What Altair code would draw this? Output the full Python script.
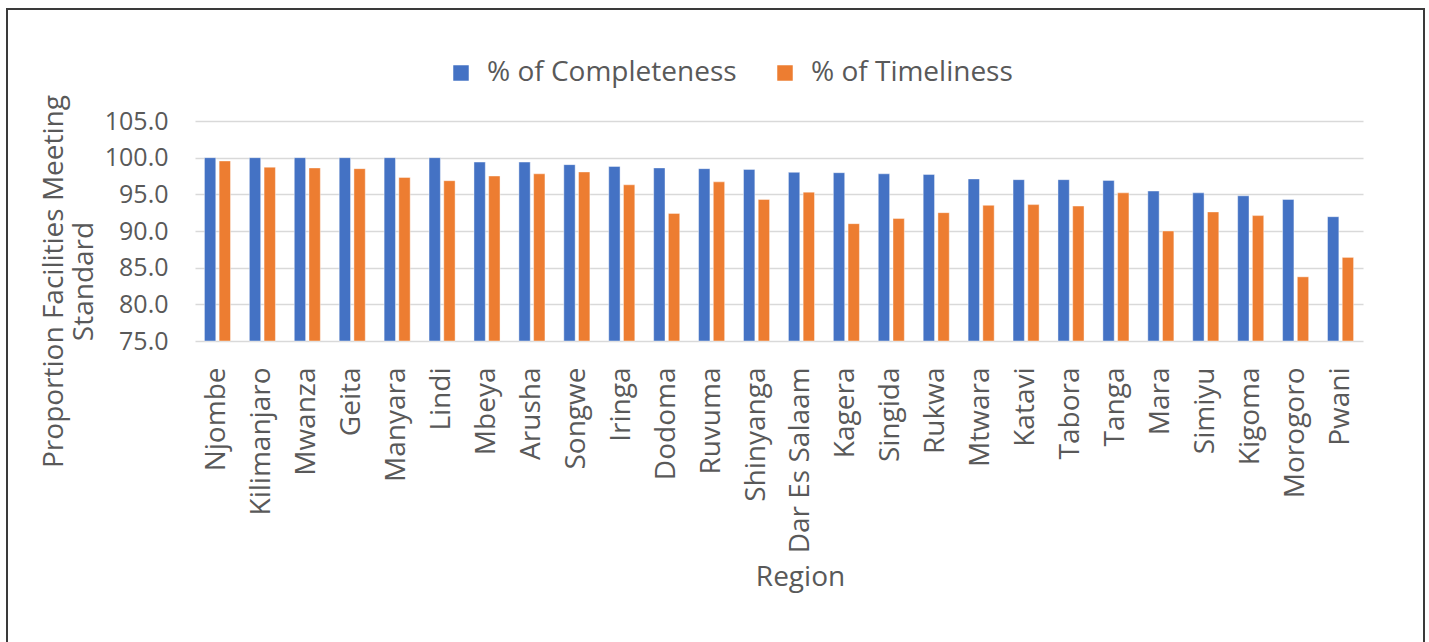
import altair as alt
import pandas as pd

regions = ["Njombe", "Kilimanjaro", "Mwanza", "Geita", "Manyara", "Lindi", "Mbeya",
           "Arusha", "Songwe", "Iringa", "Dodoma", "Ruvuma", "Shinyanga",
           "Dar Es Salaam", "Kagera", "Singida", "Rukwa", "Mtwara", "Katavi",
           "Tabora", "Tanga", "Mara", "Simiyu", "Kigoma", "Morogoro", "Pwani"]
completeness = [100, 100, 100, 100, 100, 100, 99.4, 99.4, 99.05, 98.8, 98.6, 98.5,
                98.4, 98.0, 97.95, 97.8, 97.7, 97.1, 97.0, 97.0, 96.9, 95.45, 95.2,
                94.8, 94.3, 91.95]
timeliness = [99.55, 98.7, 98.6, 98.5, 97.3, 96.86, 97.5, 97.8, 98.05, 96.3, 92.4,
              96.7, 94.3, 95.3, 91.0, 91.7, 92.5, 93.5, 93.6, 93.4, 95.2, 90.0, 92.6,
              92.1, 83.75, 86.4]
series = ["% of Completeness", "% of Timeliness"]
colors = ["#4472C4", "#ED7D31"]

rows = []
for r, c, t in zip(regions, completeness, timeliness):
    rows.append({"Region": r, "Series": series[0], "Value": c})
    rows.append({"Region": r, "Series": series[1], "Value": t})
df = pd.DataFrame(rows)

FONT = "Open Sans"
TXT = "#595959"
W, H = 1168, 220

bars = alt.Chart(df).mark_bar(stroke="white", strokeWidth=0.6, strokeOpacity=0.7).encode(
    x=alt.X("Region:N", sort=regions,
            scale=alt.Scale(paddingInner=0.42, paddingOuter=0.21),
            axis=alt.Axis(title="Region", labelAngle=-90, labelPadding=26,
                          labelFontSize=28, titleFontSize=28, titleFontWeight="normal",
                          ticks=False, domain=False, grid=False, labelLimit=300,
                          titleX=605, titleY=236, titleAnchor="middle",
                          titleBaseline="middle")),
    xOffset=alt.XOffset("Series:N", scale=alt.Scale(paddingInner=0.23)),
    y=alt.Y("Value:Q",
            scale=alt.Scale(domain=[75, 105], zero=False, nice=False),
            axis=alt.Axis(title=["Proportion Facilities Meeting", "Standard"],
                          values=[75, 80, 85, 90, 95, 100, 105], format=".1f",
                          labelFontSize=25, titleFontSize=28, titleFontWeight="normal",
                          labelPadding=27, ticks=False, domain=False,
                          gridColor="#D9D9D9", gridWidth=1.6, titleLimit=500,
                          titleX=-141, titleY=160, titleAngle=-90,
                          titleAnchor="middle", titleBaseline="middle",
                          titleLineHeight=30)),
    y2=alt.datum(75),
    color=alt.Color("Series:N", sort=series,
                    scale=alt.Scale(domain=series, range=colors),
                    legend=alt.Legend(title=None, orient="none", direction="horizontal",
                                      legendX=252, legendY=-62, labelFontSize=28,
                                      symbolType="square", symbolSize=240,
                                      symbolStrokeWidth=0, labelOffset=12,
                                      labelLimit=400, columnPadding=34,
                                      labelColor=TXT)),
)

frame = alt.Chart(df).mark_rect(fill=None, stroke="#3a3a3a", strokeWidth=2).encode(
    x=alt.value(-188), x2=alt.value(1229), y=alt.value(-112), y2=alt.value(540))

chart = alt.layer(frame, bars).properties(
    width=W, height=H,
    autosize=alt.AutoSizeParams(type="none"),
    padding={"left": 195, "top": 121, "right": 66, "bottom": 301},
).configure_view(stroke=None).configure_axis(
    labelFont=FONT, titleFont=FONT, labelColor=TXT, titleColor=TXT
).configure_legend(labelFont=FONT)

chart.save("out.html", embed_options={"renderer": "svg", "actions": False})
